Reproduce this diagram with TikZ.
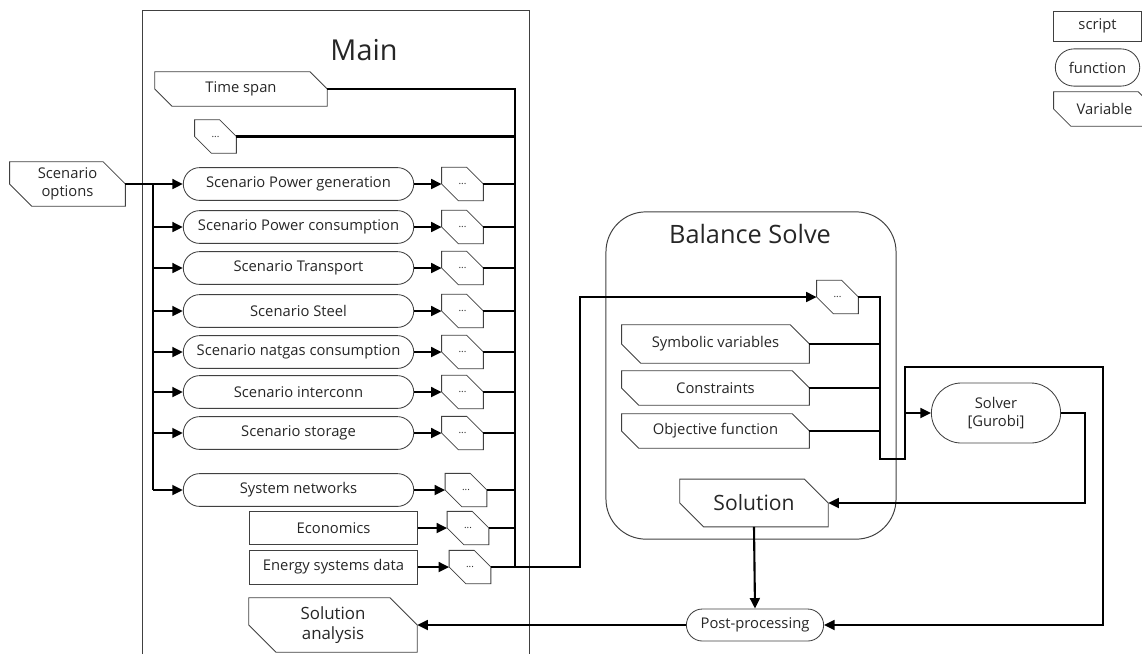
\documentclass[tikz,border=0pt]{standalone}
\usepackage{fontspec}
\setmainfont{Open Sans}
\usepackage{tikz}
\usetikzlibrary{arrows.meta, shapes.misc, calc}

\begin{document}
\begin{tikzpicture}[
		x=0.025cm, y=-0.025cm,
		>={Triangle[length=7.5pt, width=7pt]},
		every node/.style={
				font=\fontsize{10.5}{12.5}\selectfont,
				text=black!85,
				align=center,
				inner sep=1pt
			},
		script/.style={draw=black!75, line width=0.6pt},
		func/.style={draw=black!75, line width=0.6pt, rounded rectangle,
				minimum width=5.83cm, minimum height=0.82cm},
		var/.style={
				append after command={\pgfextra{
							\draw[black!75, line width=0.6pt]
							(\tikzlastnode.north west) --
							($(\tikzlastnode.north east)!1!-90:(\tikzlastnode.east)$) --
							(\tikzlastnode.east) --
							(\tikzlastnode.south east) --
							($(\tikzlastnode.south west)!1!-90:(\tikzlastnode.west)$) --
							(\tikzlastnode.west) -- cycle;
						}}
			},
		dots/.style={var, minimum width=1.03cm, minimum height=0.82cm, font=\scriptsize},
		flow/.style={line width=1.5pt, black},
		frame/.style={draw=black!75, line width=0.7pt}
	]
	\useasboundingbox (0,0) rectangle (1142,654);

	% Main script
	\draw[frame] (142,654) |- (529,10) -- (529,654);
	\node[font=\fontsize{20.5}{24}\selectfont] (main) at (364,50) {Main};

	\node[var, minimum width=4.3cm, minimum height=0.85cm] (ts) at (241,89) {Time span};
	\node[dots] (d0) at (215.5,136.5) {...};
	\node[var, minimum width=2.88cm, minimum height=1.1cm] (so) at (67.5,184) {Scenario\\options};

	\node[func] (f1) at (298.5,184) {Scenario Power generation};
	\node[func] (f2) at (298.5,227) {Scenario Power consumption};
	\node[func] (f3) at (298.5,268) {Scenario Transport};
	\node[func] (f4) at (298.5,311) {Scenario Steel};
	\node[func] (f5) at (298.5,352) {Scenario natgas consumption};
	\node[func] (f6) at (298.5,392) {Scenario interconn};
	\node[func] (f7) at (298.5,433) {Scenario storage};
	\node[func] (f8) at (298.5,490) {System networks};
	\node[script, minimum width=4.18cm, minimum height=0.83cm] (eco) at (333.5,528) {Economics};
	\node[script, minimum width=4.18cm, minimum height=0.85cm] (esd) at (333.5,567) {Energy systems data};

	\node[dots] (d1) at (462.5,184) {...};
	\node[dots] (d2) at (462.5,227) {...};
	\node[dots] (d3) at (462.5,268) {...};
	\node[dots] (d4) at (462.5,311) {...};
	\node[dots] (d5) at (462.5,352) {...};
	\node[dots] (d6) at (462.5,392) {...};
	\node[dots] (d7) at (462.5,433) {...};
	\node[dots] (d8) at (466,490) {...};
	\node[dots] (d9) at (468,528) {...};
	\node[dots] (d10) at (470,567) {...};

	\node[var, minimum width=4.2cm, minimum height=1.35cm, font=\fontsize{12}{14.5}\selectfont] (sa) at (333,625) {Solution\\analysis};

	\coordinate (sb) at (153,490);
	\coordinate (mb) at (515,567);
	\coordinate (c1) at (580,567);

	\draw[flow, ->] (so.east) -- (f1.west);
	\draw[flow] (so.east -| sb) -- (sb);
	\draw[flow, ->] (f2.west -| sb) -- (f2.west);
	\draw[flow, ->] (f3.west -| sb) -- (f3.west);
	\draw[flow, ->] (f4.west -| sb) -- (f4.west);
	\draw[flow, ->] (f5.west -| sb) -- (f5.west);
	\draw[flow, ->] (f6.west -| sb) -- (f6.west);
	\draw[flow, ->] (f7.west -| sb) -- (f7.west);
	\draw[flow, ->] (f8.west -| sb) -- (f8.west);

	\draw[flow, ->] (f1.east) -- (d1.west);
	\draw[flow, ->] (f2.east) -- (d2.west);
	\draw[flow, ->] (f3.east) -- (d3.west);
	\draw[flow, ->] (f4.east) -- (d4.west);
	\draw[flow, ->] (f5.east) -- (d5.west);
	\draw[flow, ->] (f6.east) -- (d6.west);
	\draw[flow, ->] (f7.east) -- (d7.west);
	\draw[flow, ->] (f8.east) -- (d8.west);
	\draw[flow, ->] (eco.east) -- (d9.west);
	\draw[flow, ->] (esd.east) -- (d10.west);

	\draw[flow] (ts.east) -| (mb);
	\draw[flow] (d0.east) -- (d0.east -| mb);
	\draw[flow] (d1.east) -- (d1.east -| mb);
	\draw[flow] (d2.east) -- (d2.east -| mb);
	\draw[flow] (d3.east) -- (d3.east -| mb);
	\draw[flow] (d4.east) -- (d4.east -| mb);
	\draw[flow] (d5.east) -- (d5.east -| mb);
	\draw[flow] (d6.east) -- (d6.east -| mb);
	\draw[flow] (d7.east) -- (d7.east -| mb);
	\draw[flow] (d8.east) -- (d8.east -| mb);
	\draw[flow] (d9.east) -- (d9.east -| mb);

	% Balance solve
	\node[frame, rounded corners=1cm, minimum width=7.25cm, minimum height=8.18cm] (bs) at (751,375.5) {};
	\node[font=\fontsize{18}{21}\selectfont] (bt) at (750,234) {Balance Solve};
	\node[dots] (bd) at (837.5,297) {...};
	\node[var, minimum width=4.68cm, minimum height=0.95cm] (sv) at (715.5,344) {Symbolic variables};
	\node[var, minimum width=4.68cm, minimum height=0.85cm] (cs) at (715.5,388) {Constraints};
	\node[var, minimum width=4.68cm, minimum height=0.85cm] (of) at (715.5,431) {Objective function};
	\node[var, minimum width=3.7cm, minimum height=1.18cm, font=\fontsize{15}{18}\selectfont] (sol) at (754,503) {Solution};

	\node[func, minimum width=3.5cm, minimum height=0.8cm] (pp) at (755,625) {Post-processing};
	\node[func, minimum width=3.3cm, minimum height=1.5cm] (gs) at (996,413) {Solver\\{[Gurobi]}};

	\draw[flow, ->] (d10.east) -- (d10.east -| c1) |- (bd.west);

	\coordinate (k1) at (880,459);
	\coordinate (k2) at (905,367);
	\coordinate (k3) at (1103,625);
	\coordinate (k4) at (1085,503);

	\draw[flow] (sv.east) -- (sv.east -| k1);
	\draw[flow] (cs.east) -- (cs.east -| k1);
	\draw[flow] (of.east) -- (of.east -| k1);
	\draw[flow, ->] (bd.east) -| (k1) -| (k2) -| (k3) -- (pp.east);
	\draw[flow, ->] (gs.west -| k2) -- (gs.west);
	\draw[flow, ->] (gs.east) -| (k4) -- (sol.east);
	\draw[flow, ->] (sol.south) -- (pp.north);
	\draw[flow, ->] (pp.west) -- (sa.east);

	% legend
	\node[script, minimum width=2.18cm, minimum height=0.75cm] (lg1) at (1097.5,26) {script};
	\node[func, minimum width=2.18cm, minimum height=0.93cm] (lg2) at (1097.5,67.5) {function};
	\node[var, minimum width=2.53cm, minimum height=0.85cm] (lg3) at (1104.5,109) {Variable};
\end{tikzpicture}
\end{document}
